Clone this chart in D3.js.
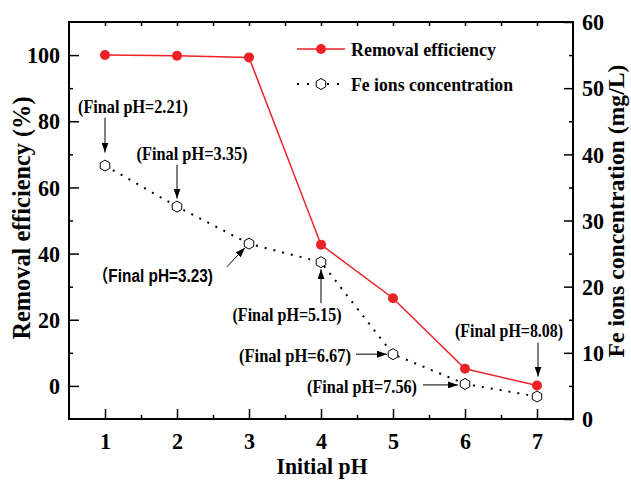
<!DOCTYPE html>
<html>
<head>
<meta charset="utf-8">
<script src="https://cdn.jsdelivr.net/npm/d3@7"></script>
<style>
  body { margin: 0; background: #fff; }
</style>
</head>
<body>
<svg id="chart" width="631" height="480"></svg>
<script>
// ---- data ----
const initialPH = [1, 2, 3, 4, 5, 6, 7];
const removalEff = [100, 99.8, 99.3, 42.7, 26.5, 5.2, 0.1];   // %
const feConc = [38.3, 32.1, 26.5, 23.7, 9.8, 5.3, 3.4];        // mg/L
const finalPH = ["2.21", "3.35", "3.23", "5.15", "6.67", "7.56", "8.08"];
const leftTicks = [0, 20, 40, 60, 80, 100];
const rightTicks = [0, 10, 20, 30, 40, 50, 60];
const xTicks = [1, 2, 3, 4, 5, 6, 7];

// ---- annotation layout: label centre and arrow ends, offset from the marker ----
const noteLayout = [
  { on: "fe",  lx: 28,   ly: -59, x0: 0,   y0: -48, x1: 0,  y1: -13, w: 110 },
  { on: "fe",  lx: 15,   ly: -53, x0: 0,   y0: -42, x1: 0,  y1: -8,  w: 111 },
  { on: "fe",  lx: -96,  ly: 32,  x0: -22, y0: 23,  x1: -4, y1: 4,   w: 120, sans: true },
  { on: "fe",  lx: -34,  ly: 52,  x0: 0,   y0: 41,  x1: 0,  y1: 7,   w: 109 },
  { on: "fe",  lx: -98,  ly: 1,   x0: -37, y0: 0,   x1: -6, y1: 0,   w: 112 },
  { on: "fe",  lx: -103, ly: 2,   x0: -42, y0: 1,   x1: -7, y1: 1,   w: 110 },
  { on: "eff", lx: -28,  ly: -55, x0: 1,   y0: -43, x1: 1,  y1: -9,  w: 108 }
];

const svg = d3.select("#chart");
const m = { l: 69, r: 573, t: 22, b: 419 };
const serif = "'Liberation Serif','Times New Roman',serif";
const sans = "'Liberation Sans','Noto Sans CJK SC',Arial,sans-serif";
const red = "#ec2227";

const x = d3.scaleLinear().domain([0.5, 7.5]).range([m.l, m.r]);
const yL = d3.scaleLinear().domain([-10, 110]).range([m.b, m.t]);
const yR = d3.scaleLinear().domain([0, 60]).range([m.b, m.t]);

svg.append("defs").append("marker")
  .attr("id", "arrow")
  .attr("markerUnits", "userSpaceOnUse")
  .attr("markerWidth", 10).attr("markerHeight", 7)
  .attr("refX", 10).attr("refY", 3.5)
  .attr("orient", "auto")
  .append("path").attr("d", "M0,0 L10,3.5 L0,7 Z").attr("fill", "#000");

// narrow a text element to a fraction of its natural width
function squeeze(sel, k) {
  sel.each(function () {
    const w = this.getComputedTextLength();
    d3.select(this).attr("textLength", w * k).attr("lengthAdjust", "spacingAndGlyphs");
  });
}

function styleAxis(g) {
  g.select(".domain").remove();
  g.selectAll(".tick line").attr("stroke", "#000").attr("stroke-width", 1.5);
  g.selectAll(".tick text")
    .attr("font-family", serif).attr("font-weight", "bold")
    .attr("font-size", 24).attr("fill", "#000")
    .call(squeeze, 0.92);
}

// ---- axes (ticks point into the plot) ----
svg.append("g").attr("transform", `translate(0,${m.b})`)
  .call(d3.axisBottom(x).tickValues(xTicks).tickFormat(d3.format("d")).tickSize(-10).tickPadding(13))
  .call(styleAxis);
svg.append("g").attr("transform", `translate(0,${m.b})`)
  .call(d3.axisBottom(x).tickValues(d3.range(1.5, 7, 1)).tickFormat("").tickSize(-4))
  .call(styleAxis);
svg.append("g").attr("transform", `translate(0,${m.t})`)
  .call(d3.axisTop(x).tickValues(d3.range(1, 7.01, 0.5)).tickFormat("").tickSize(-4))
  .call(styleAxis);

svg.append("g").attr("transform", `translate(${m.l},0)`)
  .call(d3.axisLeft(yL).tickValues(leftTicks).tickFormat(d3.format("d")).tickSize(-10).tickPadding(9))
  .call(styleAxis);
svg.append("g").attr("transform", `translate(${m.l},0)`)
  .call(d3.axisLeft(yL).tickValues(d3.range(10, 100, 20)).tickFormat("").tickSize(-4))
  .call(styleAxis);

svg.append("g").attr("transform", `translate(${m.r},0)`)
  .call(d3.axisRight(yR).tickValues(rightTicks).tickFormat(d3.format("d")).tickSize(-9).tickPadding(9))
  .call(styleAxis);
svg.append("g").attr("transform", `translate(${m.r},0)`)
  .call(d3.axisRight(yR).tickValues(d3.range(5, 60, 10)).tickFormat("").tickSize(-4))
  .call(styleAxis);

// frame
svg.append("rect")
  .attr("x", m.l).attr("y", m.t)
  .attr("width", m.r - m.l).attr("height", m.b - m.t)
  .attr("fill", "none").attr("stroke", "#000").attr("stroke-width", 2);

// axis titles
svg.append("text")
  .attr("transform", `translate(21,218) rotate(-90)`)
  .attr("text-anchor", "middle").attr("dy", "0.35em")
  .attr("font-family", serif).attr("font-weight", "bold").attr("font-size", 25)
  .attr("textLength", 243).attr("lengthAdjust", "spacingAndGlyphs")
  .text("Removal efficiency (%)");
svg.append("text")
  .attr("transform", `translate(616,211) rotate(-90)`)
  .attr("text-anchor", "middle").attr("dy", "0.35em")
  .attr("font-family", serif).attr("font-weight", "bold").attr("font-size", 24)
  .attr("textLength", 293).attr("lengthAdjust", "spacingAndGlyphs")
  .text("Fe ions concentration (mg/L)");
svg.append("text")
  .attr("x", 322).attr("y", 466)
  .attr("text-anchor", "middle").attr("dy", "0.35em")
  .attr("font-family", serif).attr("font-weight", "bold").attr("font-size", 24)
  .attr("textLength", 91).attr("lengthAdjust", "spacingAndGlyphs")
  .text("Initial pH");

// ---- series ----
const hexPath = (r) => {
  const pts = d3.range(6).map(k => {
    const a = -Math.PI / 2 + k * Math.PI / 3;
    return [r * Math.cos(a), r * Math.sin(a)];
  });
  return "M" + pts.map(p => p.join(",")).join("L") + "Z";
};

const feLine = d3.line().x((d, i) => x(initialPH[i])).y(d => yR(d));
const effLine = d3.line().x((d, i) => x(initialPH[i])).y(d => yL(d));

svg.append("path").datum(feConc)
  .attr("d", feLine).attr("fill", "none")
  .attr("stroke", "#000").attr("stroke-width", 2).attr("stroke-dasharray", "2,7");
svg.append("path").datum(removalEff)
  .attr("d", effLine).attr("fill", "none")
  .attr("stroke", red).attr("stroke-width", 1.5);

svg.append("g").selectAll("path").data(feConc).join("path")
  .attr("transform", (d, i) => `translate(${x(initialPH[i])},${yR(d)})`)
  .attr("d", hexPath(5.5)).attr("fill", "#fff").attr("stroke", "#000").attr("stroke-width", 1);
svg.append("g").selectAll("circle").data(removalEff).join("circle")
  .attr("cx", (d, i) => x(initialPH[i])).attr("cy", d => yL(d))
  .attr("r", 5).attr("fill", red);

// ---- final pH notes ----
const notes = svg.append("g");
noteLayout.forEach((n, i) => {
  const px = x(initialPH[i]);
  const py = n.on === "fe" ? yR(feConc[i]) : yL(removalEff[i]);
  notes.append("line")
    .attr("x1", px + n.x0).attr("y1", py + n.y0)
    .attr("x2", px + n.x1).attr("y2", py + n.y1)
    .attr("stroke", "#000").attr("stroke-width", 1)
    .attr("marker-end", "url(#arrow)");
  notes.append("text")
    .attr("x", px + n.lx).attr("y", py + n.ly)
    .attr("text-anchor", "middle").attr("dy", "0.35em")
    .attr("font-family", n.sans ? sans : serif).attr("font-weight", "bold")
    .attr("font-size", n.sans ? 18 : 19)
    .attr("textLength", n.w).attr("lengthAdjust", "spacingAndGlyphs")
    .text(n.sans ? `（Final pH=${finalPH[i]})` : `(Final pH=${finalPH[i]})`);
});

// ---- legend ----
const lg = svg.append("g").attr("font-family", serif).attr("font-weight", "bold").attr("font-size", 19.5);
lg.append("line").attr("x1", 297).attr("x2", 345).attr("y1", 49).attr("y2", 49)
  .attr("stroke", red).attr("stroke-width", 1.5);
lg.append("circle").attr("cx", 321).attr("cy", 49).attr("r", 5).attr("fill", red);
lg.append("text").attr("x", 351).attr("y", 49).attr("dy", "0.35em")
  .attr("textLength", 145).attr("lengthAdjust", "spacingAndGlyphs")
  .text("Removal efficiency");
lg.append("line").attr("x1", 297).attr("x2", 345).attr("y1", 84).attr("y2", 84)
  .attr("stroke", "#000").attr("stroke-width", 2).attr("stroke-dasharray", "2,8");
lg.append("path").attr("transform", "translate(321,84)").attr("d", hexPath(5.5))
  .attr("fill", "#fff").attr("stroke", "#000").attr("stroke-width", 1);
lg.append("text").attr("x", 351).attr("y", 84).attr("dy", "0.35em")
  .attr("textLength", 162).attr("lengthAdjust", "spacingAndGlyphs")
  .text("Fe ions concentration");
</script>
</body>
</html>
